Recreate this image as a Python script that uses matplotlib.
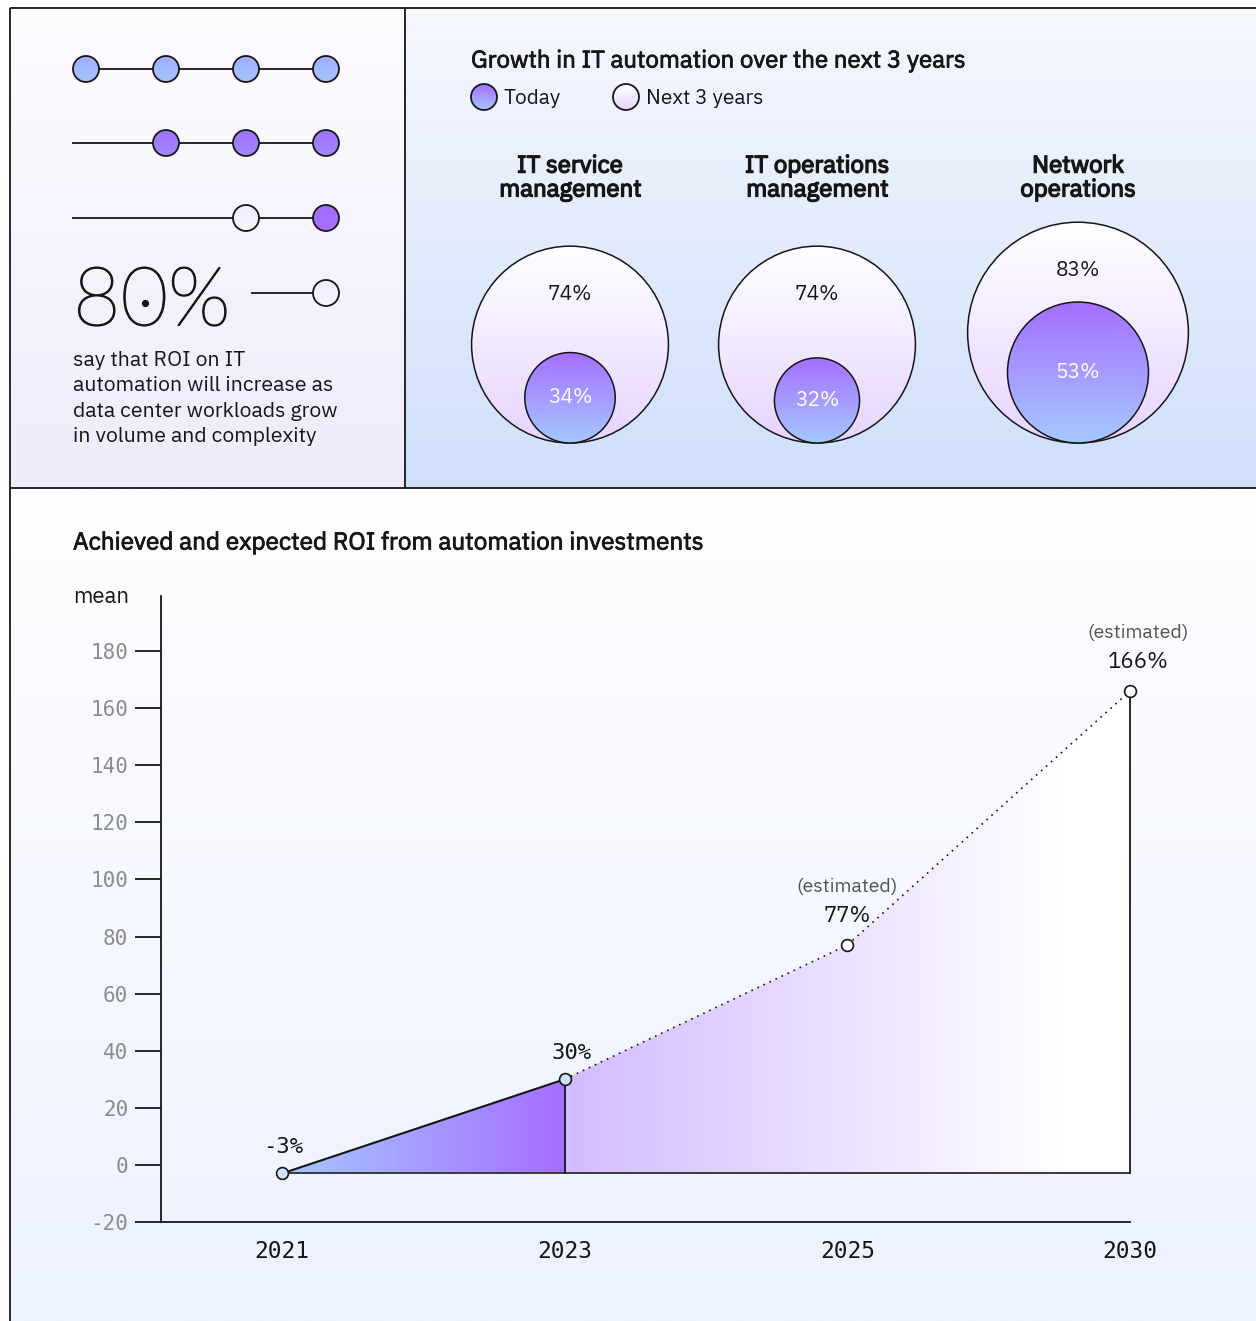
import numpy as np
import matplotlib
matplotlib.use("Agg")
import matplotlib.pyplot as plt
from matplotlib.patches import Circle, Polygon
from matplotlib.colors import to_rgb
from matplotlib import patheffects as pe

# ---------------------------------------------------------------- data
# Left panel: survey share and dot-matrix states per row
headline_value = "80%"
headline_text = ["say that ROI on IT", "automation will increase as",
                 "data center workloads grow", "in volume and complexity"]
dot_rows = [
    ["blue", "blue", "blue", "blue"],
    [None, "violet", "violet", "violet"],
    [None, None, "pale", "purple"],
    [None, None, None, "pale"],
]

# Top-right panel: growth in IT automation
growth_title = "Growth in IT automation over the next 3 years"
growth_categories = ["IT service\nmanagement", "IT operations\nmanagement", "Network\noperations"]
growth_today = [34, 32, 53]
growth_next3 = [74, 74, 83]
legend_labels = ["Today", "Next 3 years"]

# Bottom panel: ROI from automation investments
roi_title = "Achieved and expected ROI from automation investments"
roi_years = ["2021", "2023", "2025", "2030"]
roi_values = [-3, 30, 77, 166]
roi_estimated = [False, False, True, True]
roi_yticks = [-20, 0, 20, 40, 60, 80, 100, 120, 140, 160, 180]

# ---------------------------------------------------------------- style
W, H = 1256, 1321
SANS = ["IBM Plex Sans", "Noto Sans", "DejaVu Sans"]
MONO = ["DejaVu Sans Mono"]
INK = "#161616"

BLUE = "#a6c8ff"
PURPLE = "#a56eff"
LAVENDER = "#e6d4ff"

SEMIBOLD = [pe.withStroke(linewidth=0.6, foreground=INK)]
BOLD = [pe.withStroke(linewidth=1.0, foreground=INK)]

plt.rcParams["font.family"] = SANS

fig = plt.figure(figsize=(W / 100, H / 100), dpi=100)

# full-figure canvas in pixel units for panels, borders and decorations
bg = fig.add_axes([0, 0, 1, 1], zorder=0)
bg.set_xlim(0, W)
bg.set_ylim(H, 0)
bg.axis("off")
bg.set_autoscale_on(False)


def gradient(ax, extent, c0, c1, clip=None, vertical=True, zorder=1, n=256, stops=None):
    """Linear gradient from c0 (at extent start) to c1, optionally clipped."""
    x0, x1, y0, y1 = extent
    c0, c1 = np.array(to_rgb(c0)), np.array(to_rgb(c1))
    t = np.linspace(0, 1, n)
    if stops is not None:
        t = np.clip((t - stops[0]) / (stops[1] - stops[0]), 0, 1)
    cols = c0[None, :] * (1 - t[:, None]) + c1[None, :] * t[:, None]
    img = cols[:, None, :] if vertical else cols[None, :, :]
    im = ax.imshow(img, extent=(x0, x1, y0, y1), origin="lower", aspect="auto",
                   interpolation="bilinear", zorder=zorder)
    if clip is not None:
        im.set_clip_path(clip)
    return im


# panel backgrounds
gradient(bg, (10, 405, 8, 488), "#fdfcff", "#efebfb", zorder=0)
gradient(bg, (405, W, 8, 488), "#f6f8fe", "#cfdffb", zorder=0)
gradient(bg, (10, W, 488, H), "#fefeff", "#ecf2fe", zorder=0)
bg.add_patch(plt.Rectangle((0, 0), 10, H, color="white", zorder=0.5))
bg.add_patch(plt.Rectangle((0, 0), W, 8, color="white", zorder=0.5))

# borders
for xs, ys in [((10, 10), (8, H)), ((10, W), (8, 8)), ((405, 405), (8, 488)), ((10, W), (488, 488))]:
    bg.plot(xs, ys, color=INK, lw=1.3, zorder=5, solid_capstyle="butt")

# ---------------------------------------------------------------- left panel
dot_colors = {
    "blue": ("#a6c4ff", "#a2adff"),
    "violet": ("#a787ff", "#9f72ff"),
    "purple": ("#a573ff", "#a26aff"),
    "pale": ("#f8f5ff", "#f1ecfd"),
}
col_x = [86, 166, 246, 326]
row_y = [69, 143, 218, 293]
dot_r = 13
for ry, states in zip(row_y, dot_rows):
    filled = [i for i, s in enumerate(states) if s]
    start = col_x[0] if states[0] else (73 if len(filled) > 1 else 252)
    bg.plot([start, col_x[-1]], [ry, ry], color="#262626", lw=1.4, zorder=2)
    for i in filled:
        c_bottom, c_top = dot_colors[states[i]]
        circ = Circle((col_x[i], ry), dot_r, transform=bg.transData)
        gradient(bg, (col_x[i] - dot_r, col_x[i] + dot_r, ry - dot_r, ry + dot_r),
                 c_top, c_bottom, clip=circ, zorder=3)
        bg.add_patch(Circle((col_x[i], ry), dot_r, fc="none", ec=INK, lw=1.3, zorder=4))

HEAD_FAMILY = ["Lato", "Roboto", "DejaVu Sans"]
head = bg.text(73, 303, headline_value, fontsize=59, fontweight="light",
               family=HEAD_FAMILY, color=INK, va="center", ha="left", zorder=4,
               path_effects=[pe.withStroke(linewidth=1.1, foreground=INK)])
# dotted zero: locate the "0" glyph from the rendered widths of "8" and "80"
renderer = fig.canvas.get_renderer()
probe8 = bg.text(73, 303, headline_value[:1], fontsize=59, fontweight="light",
                 family=HEAD_FAMILY, va="center", ha="left", alpha=0)
probe80 = bg.text(73, 303, headline_value[:2], fontsize=59, fontweight="light",
                  family=HEAD_FAMILY, va="center", ha="left", alpha=0)
e8 = probe8.get_window_extent(renderer)
e80 = probe80.get_window_extent(renderer)
e_all = head.get_window_extent(renderer)
zx_disp = (e8.x1 + e80.x1) / 2
zy_disp = (e_all.y0 + e_all.y1) / 2
zx, zy = bg.transData.inverted().transform((zx_disp, zy_disp))
bg.plot(zx, zy, "o", ms=4.2, color=INK, zorder=5)
probe8.remove()
probe80.remove()

bg.text(73, 351, "\n".join(headline_text), fontsize=15.3, color=INK, va="top", ha="left",
        linespacing=1.42, zorder=4)

# ---------------------------------------------------------------- top-right bubbles
PX_PER_PCT = 1.33
bx0, bx1, by_top, by_bot = 405, W, 8, 488
bub = fig.add_axes([bx0 / W, 1 - by_bot / H, (bx1 - bx0) / W, (by_bot - by_top) / H], zorder=1)
bub.set_xlim(0, (bx1 - bx0) / PX_PER_PCT)
bub.set_ylim(0, (by_bot - by_top) / PX_PER_PCT)
bub.axis("off")
bub.set_autoscale_on(False)

centers_px = [570, 817, 1078]
base = (by_bot - 443) / PX_PER_PCT
for cxp, cat, today, nxt in zip(centers_px, growth_categories, growth_today, growth_next3):
    cx = (cxp - bx0) / PX_PER_PCT
    ro, ri = nxt, today
    outer = Circle((cx, base + ro), ro, transform=bub.transData)
    gradient(bub, (cx - ro, cx + ro, base, base + 2 * ro), LAVENDER, "#ffffff",
             clip=outer, zorder=2)
    bub.add_patch(Circle((cx, base + ro), ro, fc="none", ec=INK, lw=1.1, zorder=3))
    inner = Circle((cx, base + ri), ri, transform=bub.transData)
    gradient(bub, (cx - ri, cx + ri, base, base + 2 * ri), BLUE, PURPLE, clip=inner, zorder=4)
    bub.add_patch(Circle((cx, base + ri), ri, fc="none", ec=INK, lw=1.1, zorder=5))
    bub.text(cx, base + 2 * ro - 36, f"{nxt}%", ha="center", va="center",
             fontsize=15, color=INK, zorder=6)
    bub.text(cx, base + ri, f"{today}%", ha="center", va="center",
             fontsize=15, color="white", zorder=6)
    bg.text(cxp, 178, cat, ha="center", va="center", fontsize=17.3, color=INK,
            linespacing=1.05, zorder=6, path_effects=BOLD)

bg.text(471, 61, growth_title, fontsize=17.3, color=INK, va="center", ha="left",
        zorder=6, path_effects=SEMIBOLD)
leg_r = 13
for lx, label, (ct, cb) in zip([484, 626], legend_labels,
                               [(PURPLE, BLUE), ("#ffffff", LAVENDER)]):
    circ = Circle((lx, 97), leg_r, transform=bg.transData)
    gradient(bg, (lx - leg_r, lx + leg_r, 97 - leg_r, 97 + leg_r), ct, cb, clip=circ, zorder=3)
    bg.add_patch(Circle((lx, 97), leg_r, fc="none", ec=INK, lw=1.3, zorder=4))
    bg.text(lx + 20, 98, label, fontsize=15, color=INK, va="center", ha="left", zorder=4)

# ---------------------------------------------------------------- bottom ROI chart
ax_l, ax_r, ax_t, ax_b = 161, 1130, 596, 1222
ax = fig.add_axes([ax_l / W, 1 - ax_b / H, (ax_r - ax_l) / W, (ax_b - ax_t) / H], zorder=2)
ax.patch.set_visible(False)
x = np.arange(len(roi_years))
ax.set_xlim(-0.428, x[-1])
ax.set_ylim(-20, 199.3)
ax.set_autoscale_on(False)

floor = min(roi_values)
# achieved segment: blue -> purple
last_actual = max(i for i, e in enumerate(roi_estimated) if not e)
poly1 = Polygon(list(zip(x[:last_actual + 1], roi_values[:last_actual + 1])) +
                [(x[last_actual], floor)], closed=True, transform=ax.transData)
gradient(ax, (x[0], x[last_actual], floor, max(roi_values)), BLUE, PURPLE,
         clip=poly1, vertical=False, zorder=1)
# expected segment: lilac fading to white
poly2 = Polygon([(x[last_actual], floor)] +
                list(zip(x[last_actual:], roi_values[last_actual:])) +
                [(x[-1], floor)], closed=True, transform=ax.transData)
gradient(ax, (x[last_actual], x[-1], floor, max(roi_values)), "#d3bbff", "#ffffff",
         clip=poly2, vertical=False, zorder=1, stops=(0.0, 0.88))

ax.plot(x[:last_actual + 1], roi_values[:last_actual + 1], color=INK, lw=1.5, zorder=3)
ax.plot(x[last_actual:], roi_values[last_actual:], color=INK, lw=1.2,
        linestyle=(0, (1, 3)), zorder=3)
ax.plot([x[0], x[-1]], [floor, floor], color="#393939", lw=1.4, zorder=3)
ax.plot([x[last_actual]] * 2, [floor, roi_values[last_actual]], color=INK, lw=1.3, zorder=3)
ax.plot([x[-1]] * 2, [floor, roi_values[-1]], color=INK, lw=1.3, zorder=3, clip_on=False)

label_dx = [1, 5, 0, 6]
for xi, v, est, dx in zip(x, roi_values, roi_estimated, label_dx):
    ax.plot(xi, v, "o", ms=8.5, mfc="white" if est else "#d0e2ff", mec=INK, mew=1.2,
            zorder=4, clip_on=False)
    if est:
        ax.annotate(f"{v}%", (xi, v), xytext=(dx, 21), textcoords="offset points",
                    ha="center", va="center", fontsize=16, color=INK)
        ax.annotate("(estimated)", (xi, v), xytext=(dx, 42), textcoords="offset points",
                    ha="center", va="center", fontsize=14, color="#525252")
    else:
        ax.annotate(f"{v}%", (xi, v), xytext=(dx, 19), textcoords="offset points",
                    ha="center", va="center", fontsize=16, color=INK, family=MONO)

for s in ["top", "right"]:
    ax.spines[s].set_visible(False)
ax.spines["left"].set_color(INK)
ax.spines["bottom"].set_color(INK)
ax.spines["left"].set_linewidth(1.3)
ax.spines["bottom"].set_linewidth(1.3)
ax.set_yticks(roi_yticks)
ax.set_yticklabels([str(t) for t in roi_yticks], family=MONO, fontsize=15, color="#8d8d8d")
ax.tick_params(axis="y", length=18.5, width=1.3, color=INK, pad=5)
ax.set_xticks(x)
ax.set_xticklabels(roi_years, family=MONO, fontsize=16.5, color=INK)
ax.tick_params(axis="x", length=0, pad=13)

bg.text(73, 597, "mean", fontsize=16, color=INK, va="center", ha="left", zorder=6)
bg.text(73, 543, roi_title, fontsize=17.5, color=INK, va="center", ha="left",
        zorder=6, path_effects=SEMIBOLD)

fig.savefig("out.png", dpi=100)
